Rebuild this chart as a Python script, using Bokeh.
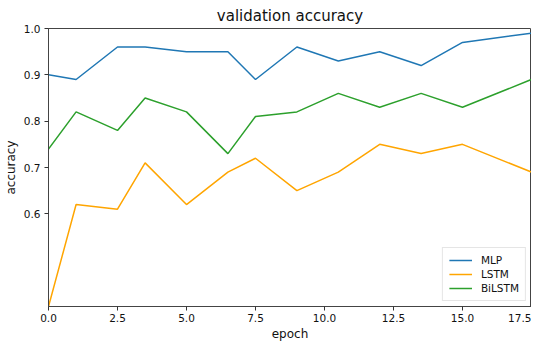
from bokeh.plotting import figure
from bokeh.models import Range1d, FixedTicker, NumeralTickFormatter, Legend, LegendItem
from bokeh.embed import file_html
from bokeh.resources import INLINE

epochs = [0, 1, 2.5, 3.5, 5, 6.5, 7.5, 9, 10.5, 12, 13.5, 15, 17.5]
mlp = [0.90, 0.89, 0.96, 0.96, 0.95, 0.95, 0.89, 0.96, 0.93, 0.95, 0.92, 0.97, 0.99]
lstm = [0.40, 0.62, 0.61, 0.71, 0.62, 0.69, 0.72, 0.65, 0.69, 0.75, 0.73, 0.75, 0.69]
bilstm = [0.74, 0.82, 0.78, 0.85, 0.82, 0.73, 0.81, 0.82, 0.86, 0.83, 0.86, 0.83, 0.89]
x_ticks = [0, 2.5, 5, 7.5, 10, 12.5, 15, 17.5]
y_ticks = [0.6, 0.7, 0.8, 0.9, 1.0]
series_names = ["MLP", "LSTM", "BiLSTM"]
colors = ["#1f77b4", "#ffa500", "#2ca02c"]

FONT = "DejaVu Sans"

p = figure(frame_width=483, frame_height=278, output_backend="svg", toolbar_location=None,
           x_range=Range1d(0, 17.5), y_range=Range1d(0.4, 1.0),
           title="validation accuracy",
           min_border_left=0, min_border_right=0, min_border_top=0, min_border_bottom=0)

p.title.align = "center"
p.title.text_font = FONT
p.title.text_font_size = "15px"
p.title.text_font_style = "normal"
p.title.text_color = "#111111"
p.title.standoff = 8

p.grid.visible = False
p.background_fill_color = "white"
p.border_fill_color = "white"
p.outline_line_color = "#444444"
p.outline_line_width = 1
p.outline_line_alpha = 1

for ax in (p.xaxis[0], p.yaxis[0]):
    ax.axis_line_color = "#444444"
    ax.axis_line_width = 1
    ax.major_tick_line_color = "#333333"
    ax.major_tick_out = 4
    ax.major_tick_in = 0
    ax.minor_tick_line_color = None
    ax.major_label_text_font = FONT
    ax.major_label_text_font_size = "10.5px"
    ax.major_label_text_color = "#111111"
    ax.axis_label_text_font = FONT
    ax.axis_label_text_font_size = "12px"
    ax.axis_label_text_font_style = "normal"
    ax.axis_label_text_color = "#111111"
    ax.formatter = NumeralTickFormatter(format="0.0")

p.xaxis[0].ticker = FixedTicker(ticks=x_ticks)
p.yaxis[0].ticker = FixedTicker(ticks=y_ticks)
p.xaxis[0].axis_label = "epoch"
p.yaxis[0].axis_label = "accuracy"
p.xaxis[0].major_label_standoff = 3
p.xaxis[0].axis_label_standoff = 2
p.yaxis[0].major_label_standoff = 4
p.yaxis[0].axis_label_standoff = 3

items = []
for name, ys, c in zip(series_names, [mlp, lstm, bilstm], colors):
    r = p.line(epochs, ys, line_color=c, line_width=1.5)
    items.append(LegendItem(label=name, renderers=[r]))

legend = Legend(items=items, location="bottom_right")
legend.label_text_font = FONT
legend.label_text_font_size = "10.5px"
legend.label_text_color = "#111111"
legend.glyph_width = 23
legend.glyph_height = 12
legend.label_height = 12
legend.label_standoff = 9
legend.spacing = 2
legend.padding = 6
legend.margin = 5
legend.border_line_color = "#cccccc"
legend.border_line_width = 1
legend.background_fill_alpha = 0.8
p.add_layout(legend)

open("out.html", "w").write(file_html(p, INLINE))
